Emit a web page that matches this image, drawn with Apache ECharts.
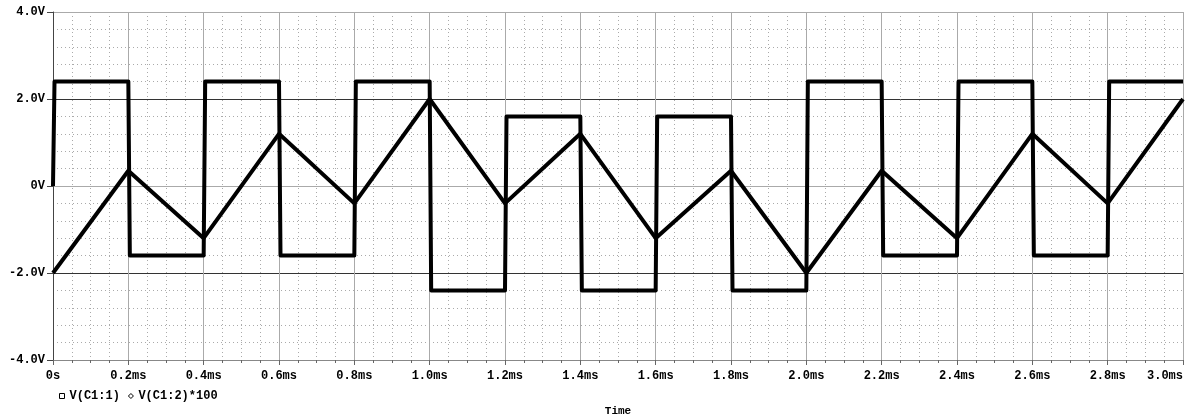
<!DOCTYPE html>
<html>
<head>
<meta charset="utf-8">
<script src="https://cdn.jsdelivr.net/npm/echarts@6/dist/echarts.min.js"></script>
<style>
html,body{margin:0;padding:0;background:#fff;}
#chart{width:1187px;height:417px;}
</style>
</head>
<body>
<div id="chart"></div>
<script>
// Edge times (ms) of the square wave, one level per interval
const edgeTimes = [0, 0.2, 0.4, 0.6, 0.8, 1.0, 1.2, 1.4, 1.6, 1.8, 2.0, 2.2, 2.4, 2.6, 2.8, 3.0];
// V(C1:1) level in each 0.2 ms interval (V)
const v1Levels = [2.4, -1.6, 2.4, -1.6, 2.4, -2.4, 1.6, -2.4, 1.6, -2.4, 2.4, -1.6, 2.4, -1.6, 2.4];
// V(C1:1) start value at t = 0
const v1Start = 0;
// V(C1:2)*100 value at each edge time (V)
const v2Values = [-2.0, 0.35, -1.2, 1.2, -0.4, 2.0, -0.4, 1.2, -1.2, 0.35, -2.0, 0.35, -1.2, 1.2, -0.4, 2.0];
// Tick labels
const xTickLabels = ['0s', '0.2ms', '0.4ms', '0.6ms', '0.8ms', '1.0ms', '1.2ms', '1.4ms', '1.6ms', '1.8ms', '2.0ms', '2.2ms', '2.4ms', '2.6ms', '2.8ms', '3.0ms'];
const yTickLabels = ['-4.0V', '-2.0V', '0V', '2.0V', '4.0V'];
const seriesNames = ['V(C1:1)', 'V(C1:2)*100'];
const xTitle = 'Time';

// Build step data of the square wave from its levels
const v1Data = [[0, v1Start]];
let prev = v1Start;
for (let i = 0; i < v1Levels.length; i++) {
  const t0 = edgeTimes[i];
  if (i > 0) v1Data.push([t0, prev]);
  v1Data.push([t0 + 0.004, v1Levels[i]]);
  prev = v1Levels[i];
}
v1Data.push([edgeTimes[edgeTimes.length - 1], prev]);

const v2Data = edgeTimes.map((t, i) => [t, v2Values[i]]);

const font = '"Liberation Mono", "DejaVu Sans Mono", monospace';
const chart = echarts.init(document.getElementById('chart'), null, {renderer: 'canvas'});
chart.setOption({
  animation: false,
  backgroundColor: '#fff',
  grid: {left: 53, right: 4, top: 12, bottom: 57, containLabel: false, outerBoundsMode: 'none'},
  legend: {
    left: 54, top: 385,
    itemWidth: 5, itemHeight: 5, itemGap: 8,
    textStyle: {fontFamily: font, fontSize: 12, fontWeight: 'bold', color: '#000'},
    data: [
      {name: seriesNames[0], icon: 'rect', itemStyle: {color: '#fff', borderColor: '#000', borderWidth: 1}},
      {name: seriesNames[1], icon: 'diamond', itemStyle: {color: '#fff', borderColor: '#000', borderWidth: 1}}
    ]
  },
  graphic: [{
    type: 'text', x: 618, y: 411,
    style: {text: xTitle, fontFamily: font, fontSize: 11, fontWeight: 'bold', fill: '#000', align: 'center', verticalAlign: 'middle'}
  }],
  xAxis: {
    type: 'value', min: 0, max: 3.0, interval: 0.2,
    axisLine: {show: true, onZero: false, lineStyle: {color: '#888', width: 1}},
    axisTick: {show: true, length: 5, lineStyle: {color: '#666'}},
    minorTick: {show: true, splitNumber: 4, length: 3, lineStyle: {color: '#666'}},
    axisLabel: {
      fontFamily: font, fontSize: 12, fontWeight: 'bold', color: '#000', margin: 10,
      alignMaxLabel: 'right',
      formatter: v => xTickLabels[Math.round(v / 0.2)]
    },
    splitLine: {show: true, lineStyle: {color: '#aaa', width: 1}},
    minorSplitLine: {show: true, lineStyle: {color: '#aaa', width: 1, type: [1, 3]}}
  },
  yAxis: {
    type: 'value', min: -4, max: 4, interval: 2,
    axisLine: {show: true, onZero: false, lineStyle: {color: '#444', width: 1}},
    axisTick: {show: true, length: 6, lineStyle: {color: '#444'}},
    minorTick: {show: false},
    axisLabel: {
      fontFamily: font, fontSize: 12, fontWeight: 'bold', color: '#000', margin: 8,
      formatter: v => yTickLabels[Math.round((v + 4) / 2)]
    },
    splitLine: {show: true, lineStyle: {color: ['#888', '#333', '#aaa', '#333', '#aaa'], width: 1}},
    minorSplitLine: {show: true, lineStyle: {color: '#aaa', width: 1, type: [1, 3]}}
  },
  series: [
    {
      name: seriesNames[0], type: 'line', data: v1Data, showSymbol: false, symbol: 'rect',
      lineStyle: {color: '#000', width: 4, join: 'round'}, itemStyle: {color: '#000'}
    },
    {
      name: seriesNames[1], type: 'line', data: v2Data, showSymbol: false, symbol: 'diamond',
      lineStyle: {color: '#000', width: 4, join: 'round'}, itemStyle: {color: '#000'}
    }
  ]
});
</script>
</body>
</html>
